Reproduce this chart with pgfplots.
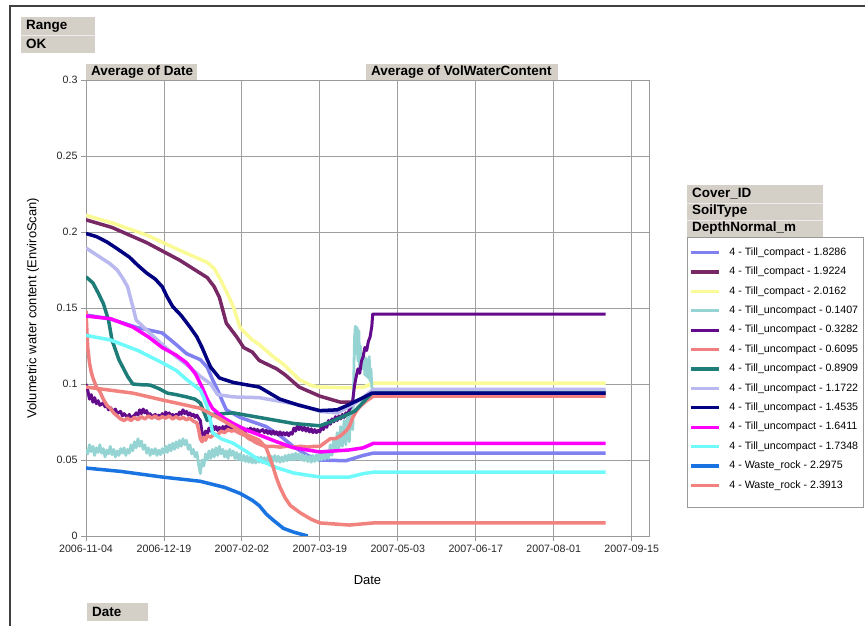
\documentclass[border=0pt]{standalone}
\usepackage{fontspec}
\setmainfont{Liberation Sans}
\usepackage{pgfplots}
\pgfplotsset{compat=1.18}
\definecolor{hdr}{RGB}{212,208,200}
\definecolor{cA}{RGB}{128,128,240}
\definecolor{cB}{RGB}{120,40,100}
\definecolor{cC}{RGB}{250,250,150}
\definecolor{cD}{RGB}{150,212,212}
\definecolor{cE}{RGB}{100,10,140}
\definecolor{cF}{RGB}{240,128,128}
\definecolor{cG}{RGB}{30,125,120}
\definecolor{cH}{RGB}{185,185,240}
\definecolor{cI}{RGB}{0,0,128}
\definecolor{cJ}{RGB}{255,0,255}
\definecolor{cK}{RGB}{110,250,250}
\definecolor{cL}{RGB}{25,115,225}
\definecolor{cM}{RGB}{242,130,125}
\newcommand{\hdrbox}[5]{%
  \fill[hdr] (#1,#2) rectangle (#3,#4);
  \node[anchor=west, inner sep=0pt, font=\bfseries\fontsize{13.5}{15}\selectfont] at ({#1+5},{(#2+#4)/2}) {#5};}
\begin{document}
\begin{tikzpicture}
\path[use as bounding box] (0bp,0bp) rectangle (865bp,626bp);
\begin{scope}[x=1bp,y=-1bp,yshift=626bp]
  \draw[line width=2.2bp, black!75] (10,626) -- (10,6) -- (865,6);
  \hdrbox{21}{17}{95}{35}{Range}
  \hdrbox{21}{35}{95}{53}{OK}
  \draw[white!85!gray, line width=0.6bp] (21,35) -- (95,35);
  \hdrbox{86}{64}{197}{80}{Average of Date}
  \hdrbox{366}{64}{558}{80}{Average of VolWaterContent}
  \hdrbox{87}{603}{148}{621}{Date}
  \hdrbox{687}{185}{823}{203}{Cover\_ID}
  \hdrbox{687}{203}{823}{220}{SoilType}
  \hdrbox{687}{220}{823}{237}{DepthNormal\_m}
  \draw[white!85!gray, line width=0.6bp] (687,203) -- (823,203) (687,220) -- (823,220);
  \draw[gray!80, line width=0.8bp, fill=white] (687,237) rectangle (863,507);
\end{scope}
\begin{axis}[
  at={(86bp,90bp)}, anchor=south west,
  scale only axis, width=563bp, height=456bp,
  xmin=0, xmax=325, ymin=0, ymax=0.3,
  xtick={0,45,90,135,180,225,270,315},
  xticklabels={2006-11-04,2006-12-19,2007-02-02,2007-03-19,2007-05-03,2007-06-17,2007-08-01,2007-09-15},
  ytick={0,0.05,0.1,0.15,0.2,0.25,0.3},
  yticklabels={0,0.05,0.1,0.15,0.2,0.25,0.3},
  xtick pos=left, ytick pos=left,
  grid=major, grid style={draw=gray!75, line width=0.9bp},
  axis line style={draw=gray!80, line width=0.9bp},
  tick style={draw=gray!80, line width=0.9bp},
  tick align=outside, major tick length=5bp,
  x tick label style={font=\fontsize{10.7}{12}\selectfont, text=black!85, yshift=-1bp},
  y tick label style={font=\fontsize{10.7}{12}\selectfont, text=black!85},
  xlabel={Date}, ylabel={Volumetric water content (EnviroScan)},
  every axis x label/.style={at={(axis description cs:0.5,-0.0965)}, anchor=center, font=\fontsize{13}{15}\selectfont},
  every axis y label/.style={at={(axis description cs:-0.0941,0.5)}, anchor=center, rotate=90, font=\fontsize{13}{15}\selectfont},
  legend cell align=left,
  legend style={at={(axis description cs:1.0675,0.6557)}, anchor=north west, draw=none, fill=none,
    inner xsep=2bp, inner ysep=9.5bp, row sep=7.6bp, column sep=8bp,
    font=\fontsize{10.7}{12}\selectfont,
    nodes={inner sep=1bp, text height=7.6bp, text depth=2.2bp}},
  legend image code/.code={\draw[#1, line width=3.2bp] (0bp,0bp) -- (28bp,0bp);},
  every axis plot/.append style={line width=3.5bp, line join=round},
]
% 1.8286
\addplot[cA] coordinates {(0,0.1454) (14,0.1428) (30,0.137) (44,0.1336) (52,0.126) (58,0.12) (66,0.116) (70,0.111) (73,0.103) (76,0.096) (79,0.088) (81,0.083) (89,0.078) (104,0.072) (112,0.066) (120,0.0586) (128,0.053) (135,0.050) (150,0.0495) (160,0.053) (166,0.0546) (300,0.0546)};
\addlegendentry{4 - Till\_compact - 1.8286}
% 1.9224
\addplot[cB] coordinates {(0,0.208) (15,0.203) (35,0.193) (54,0.1815) (70,0.170) (74,0.164) (77,0.157) (81,0.140) (87,0.131) (91,0.124) (96,0.121) (100,0.1155) (110,0.110) (115,0.106) (123,0.098) (135,0.092) (147,0.088) (155,0.088) (162,0.092) (166,0.0945) (300,0.0945)};
\addlegendentry{4 - Till\_compact - 1.9224}
% 2.0162
\addplot[cC] coordinates {(0,0.211) (15,0.206) (35,0.198) (54,0.188) (70,0.180) (74,0.176) (77,0.170) (81,0.161) (85,0.151) (89,0.137) (96,0.129) (100,0.126) (108,0.118) (114,0.113) (123,0.103) (130,0.099) (135,0.098) (150,0.0975) (160,0.098) (166,0.1005) (300,0.1005)};
\addlegendentry{4 - Till\_compact - 2.0162}
% 0.1407 (noisy)
\addplot[cD, line width=2.8bp] coordinates {
(0,.0570) (1,.0540) (2,.0600) (3,.0555) (4,.0590) (5,.0530) (6,.0580) (7,.0550) (8,.0600) (9,.0545)
(10,.0575) (11,.0520) (12,.0565) (13,.0540) (14,.0590) (15,.0535) (16,.0570) (17,.0520) (18,.0560) (19,.0530)
(20,.0575) (21,.0545) (22,.0580) (23,.0530) (24,.0570) (25,.0545) (26,.0600) (27,.0560) (28,.0620) (29,.0580)
(30,.0640) (31,.0590) (32,.0625) (33,.0570) (34,.0600) (35,.0545) (36,.0580) (37,.0530) (38,.0570) (39,.0540)
(40,.0575) (41,.0530) (42,.0565) (43,.0535) (44,.0575) (45,.0545) (46,.0590) (47,.0550) (48,.0600) (49,.0560)
(50,.0610) (51,.0570) (52,.0620) (53,.0580) (54,.0630) (55,.0590) (56,.0640) (57,.0600) (58,.0630) (59,.0570)
(60,.0600) (61,.0540) (62,.0570) (63,.0520) (64,.0550) (65,.0470) (66,.0410) (67,.0500) (68,.0460) (69,.0540)
(70,.0500) (71,.0560) (72,.0510) (73,.0570) (74,.0520) (75,.0580) (76,.0530) (77,.0590) (78,.0540) (79,.0570)
(80,.0520) (81,.0560) (82,.0510) (83,.0570) (84,.0530) (85,.0560) (86,.0510) (87,.0550) (88,.0500) (89,.0540)
(90,.0495) (91,.0530) (92,.0490) (93,.0525) (94,.0485) (95,.0520) (96,.0480) (97,.0515) (98,.0480) (99,.0520)
(100,.0485) (101,.0520) (102,.0480) (103,.0515) (104,.0480) (105,.0520) (106,.0485) (107,.0525) (108,.0490) (109,.0530)
(110,.0490) (111,.0525) (112,.0485) (113,.0520) (114,.0490) (115,.0530) (116,.0495) (117,.0535) (118,.0500) (119,.0540)
(120,.0500) (121,.0545) (122,.0505) (123,.0540) (124,.0500) (125,.0535) (126,.0495) (127,.0530) (128,.0490) (129,.0525)
(130,.0485) (131,.0530) (132,.0490) (133,.0535) (134,.0495) (135,.0545) (136,.0500) (137,.0550) (138,.0505) (139,.0560)
(140,.0510) (141,.0600) (142,.0530) (143,.0640) (144,.0560) (145,.0680) (146,.0570) (147,.0720) (148,.0590) (149,.0760)
(150,.0600) (151,.0800) (152,.0620) (153,.0850) (154,.0700) (154.5,.1000) (155,.1300) (155.5,.1380) (156,.1200) (156.5,.1370)
(157,.1150) (157.5,.1350) (158,.1100) (158.5,.1250) (159,.1120) (159.5,.1200) (160,.1100) (160.5,.1180) (161,.1060) (161.5,.1170)
(162,.1050) (162.5,.1160) (163,.1040) (163.5,.1180) (164,.1020) (164.5,.1100) (165,.0980) (166,.0950) (300,.0950)};
\addlegendentry{4 - Till\_uncompact - 0.1407}
% 0.3282 (noisy)
\addplot[cE, line width=3bp] coordinates {
(0,.1000) (1,.0960) (2,.0900) (3,.0930) (4,.0880) (5,.0910) (6,.0870) (7,.0890) (8,.0860) (10,.0875)
(11,.0850) (12,.0860) (13,.0830) (14,.0845) (16,.0820) (17,.0835) (18,.0805) (20,.0820) (21,.0790) (22,.0805)
(24,.0780) (25,.0800) (26,.0775) (28,.0795) (29,.0810) (30,.0795) (31,.0830) (32,.0805) (33,.0835) (34,.0810)
(35,.0825) (36,.0790) (37,.0805) (38,.0785) (40,.0800) (41,.0775) (42,.0795) (43,.0780) (44,.0805) (45,.0790)
(46,.0815) (47,.0795) (48,.0810) (49,.0785) (50,.0800) (51,.0780) (52,.0800) (53,.0790) (54,.0815) (55,.0800)
(56,.0830) (57,.0805) (58,.0820) (59,.0795) (60,.0810) (61,.0790) (62,.0800) (63,.0780) (64,.0795) (65,.0775)
(66,.0760) (67,.0680) (68,.0645) (69,.0690) (70,.0670) (71,.0710) (72,.0690) (73,.0725) (74,.0700) (75,.0720)
(76,.0695) (77,.0715) (78,.0690) (79,.0720) (80,.0700) (81,.0725) (82,.0700) (83,.0720) (84,.0695) (85,.0715)
(86,.0700) (87,.0720) (88,.0690) (89,.0710) (90,.0695) (91,.0710) (92,.0685) (93,.0705) (94,.0690) (95,.0710)
(96,.0685) (97,.0705) (98,.0690) (99,.0700) (100,.0685) (102,.0700) (103,.0680) (104,.0695) (105,.0675) (106,.0690)
(107,.0670) (108,.0690) (109,.0670) (110,.0685) (111,.0665) (112,.0685) (113,.0665) (114,.0680) (115,.0665) (116,.0680)
(117,.0660) (118,.0680) (119,.0670) (120,.0710) (121,.0690) (122,.0725) (123,.0700) (124,.0720) (125,.0695) (126,.0715)
(127,.0690) (128,.0710) (129,.0685) (130,.0705) (131,.0680) (132,.0700) (133,.0680) (134,.0695) (135,.0685) (136,.0720)
(137,.0700) (138,.0740) (139,.0715) (140,.0760) (141,.0735) (142,.0770) (143,.0750) (144,.0785) (145,.0760) (146,.0790)
(147,.0770) (148,.0800) (149,.0780) (150,.0810) (151,.0800) (152,.0830) (153,.0850) (154,.0895) (155,.0990) (156,.1050)
(157,.1100) (158,.1070) (159,.1150) (160,.1180) (161,.1240) (162,.1220) (163,.1280) (164,.1310) (165,.1380) (165.5,.1460)
(166,.1460) (300,.1460)};
\addlegendentry{4 - Till\_uncompact - 0.3282}
% 0.6095
\addplot[cF] coordinates {(0,.1480) (0.5,.1350) (1,.1240) (2,.1140) (3,.1080) (4,.1040) (6,.0980) (8,.0950) (10,.0900) (12,.0860)
(14,.0840) (16,.0810) (18,.0790) (20,.0770) (22,.0760) (24,.0775) (26,.0760) (28,.0780) (30,.0765) (32,.0785)
(34,.0770) (36,.0790) (38,.0775) (40,.0790) (42,.0770) (44,.0785) (46,.0775) (48,.0790) (50,.0770) (52,.0785)
(54,.0770) (56,.0780) (58,.0765) (60,.0775) (62,.0755) (64,.0745) (65,.0700) (66,.0640) (67,.0620) (68,.0650)
(69,.0630) (70,.0660) (72,.0650) (74,.0670) (76,.0665) (78,.0690) (80,.0680) (82,.0700) (84,.0690) (86,.0695)
(88,.0680) (90,.0670) (92,.0660) (94,.0640) (96,.0630) (98,.0615) (100,.0605) (102,.0595) (104,.0590) (108,.0590)
(112,.0585) (116,.0590) (120,.0585) (124,.0590) (128,.0585) (132,.0590) (135,.0590) (138,.0615) (141,.0640) (144,.0640)
(147,.0660) (150,.0690) (152,.0720) (154,.0780) (156,.0820) (158,.0850) (160,.0870) (162,.0890) (164,.0905) (166,.0920) (300,.0920)};
\addlegendentry{4 - Till\_uncompact - 0.6095}
% 0.8909
\addplot[cG] coordinates {(0,0.1705) (2,0.1685) (4,0.1665) (7,0.160) (10,0.153) (13,0.142) (15,0.129) (19,0.116) (24,0.105) (27,0.100) (32,0.0995) (37,0.0993) (42,0.097) (47,0.094) (52,0.093) (58,0.0915) (63,0.090) (66,0.0875) (70,0.076) (73,0.080) (85,0.081) (100,0.078) (110,0.076) (120,0.074) (135,0.0725) (141,0.075) (147,0.078) (155,0.082) (160,0.088) (165,0.094) (300,0.094)};
\addlegendentry{4 - Till\_uncompact - 0.8909}
% 1.1722
\addplot[cH] coordinates {(0,0.1895) (8,0.1835) (14,0.179) (18,0.175) (21,0.170) (24,0.164) (27,0.151) (29,0.142) (35,0.1355) (43,0.127) (52,0.118) (60,0.111) (66,0.105) (72,0.100) (76,0.093) (85,0.0915) (100,0.091) (115,0.088) (124,0.086) (135,0.082) (145,0.081) (155,0.087) (162,0.093) (166,0.0965) (300,0.0965)};
\addlegendentry{4 - Till\_uncompact - 1.1722}
% 1.4535
\addplot[cI] coordinates {(0,0.199) (6,0.197) (12,0.1935) (18,0.189) (25,0.1835) (30,0.178) (35,0.173) (40,0.169) (44,0.164) (47,0.157) (50,0.151) (55,0.145) (60,0.1375) (64,0.131) (67,0.124) (70,0.116) (72,0.111) (77,0.104) (85,0.101) (100,0.098) (106,0.094) (112,0.090) (123,0.086) (135,0.0825) (145,0.083) (151,0.086) (160,0.091) (165,0.094) (300,0.094)};
\addlegendentry{4 - Till\_uncompact - 1.4535}
% 1.6411
\addplot[cJ] coordinates {(0,0.1447) (14,0.143) (27,0.1375) (36,0.131) (44,0.124) (52,0.119) (58,0.114) (63,0.107) (67,0.098) (70,0.090) (73,0.084) (79,0.078) (85,0.074) (92,0.070) (100,0.0665) (110,0.062) (120,0.058) (135,0.0553) (152,0.0566) (160,0.058) (166,0.061) (300,0.061)};
\addlegendentry{4 - Till\_uncompact - 1.6411}
% 1.7348
\addplot[cK] coordinates {(0,0.132) (14,0.129) (30,0.122) (44,0.114) (52,0.109) (58,0.103) (66,0.096) (68,0.091) (70,0.085) (72,0.075) (73,0.068) (78,0.064) (85,0.061) (92,0.056) (100,0.050) (110,0.045) (120,0.0414) (135,0.0388) (152,0.0388) (160,0.041) (166,0.042) (300,0.042)};
\addlegendentry{4 - Till\_uncompact - 1.7348}
% 2.2975
\addplot[cL] coordinates {(0,0.0447) (20,0.0425) (44,0.0388) (66,0.036) (80,0.032) (89,0.028) (96,0.0235) (100,0.020) (104,0.0145) (108,0.0105) (114,0.005) (120,0.0025) (128,0.0)};
\addlegendentry{4 - Waste\_rock - 2.2975}
% 2.3913
\addplot[cM] coordinates {(0,0.098) (27,0.094) (44,0.0895) (66,0.084) (76,0.078) (85,0.072) (92,0.067) (100,0.063) (104,0.058) (106,0.052) (108,0.0454) (110,0.038) (112,0.032) (115,0.025) (118,0.020) (124,0.015) (130,0.011) (135,0.0086) (152,0.0072) (166,0.0086) (300,0.0086)};
\addlegendentry{4 - Waste\_rock - 2.3913}
\end{axis}
\end{tikzpicture}
\end{document}
